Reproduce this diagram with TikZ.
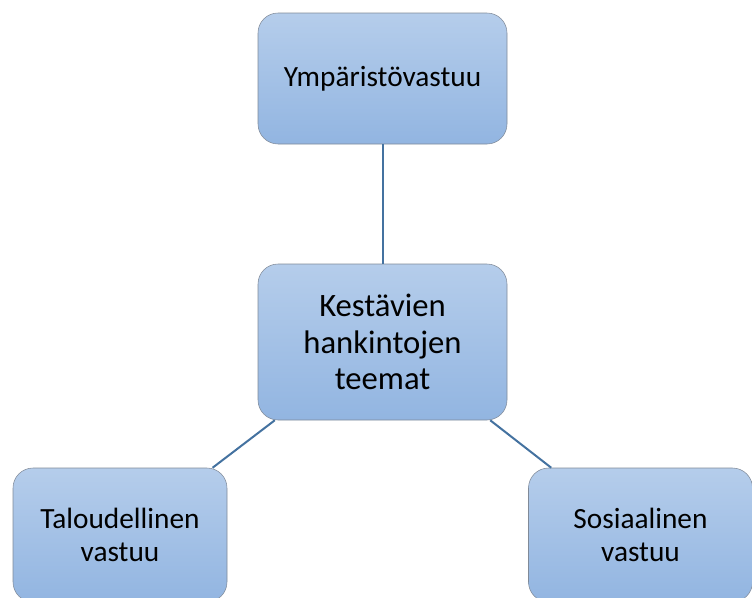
\documentclass[tikz,border=0pt]{standalone}
\usepackage{fontspec}
\setmainfont{Carlito}
\usetikzlibrary{positioning}
\definecolor{boxtop}{RGB}{181,205,235}
\definecolor{boxbot}{RGB}{146,181,225}
\definecolor{boxline}{RGB}{128,138,152}
\definecolor{linkcolor}{RGB}{68,114,160}

\begin{document}
\begin{tikzpicture}[x=0.75pt, y=-0.75pt]
  \tikzset{
    themebox/.style={
      draw=boxline, rounded corners=15pt, top color=boxtop,
      bottom color=boxbot, align=center, inner sep=0pt,
      font=\fontsize{22}{24.8}\selectfont
    },
    link/.style={draw=linkcolor, line width=1.5pt}
  }
  \useasboundingbox (0,0) rectangle (752,597);

  % ---- Centre theme ----
  \node[themebox, minimum width=186.75pt, minimum height=117pt,
        font=\fontsize{24.5}{27.4}\selectfont] (teemat) at (382.5, 342)
    {Kestävien\\hankintojen\\teemat};

  % ---- Top ----
  \node[themebox, minimum width=186.75pt, minimum height=98.25pt]
    (ymparisto) at (382.5, 78.5) {Ympäristövastuu};

  % ---- Bottom left / right (cut by the lower edge) ----
  \node[themebox, minimum width=160.5pt, minimum height=100.5pt]
    (talous) at (120, 535) {Taloudellinen\\vastuu};
  \node[themebox, minimum width=168pt, minimum height=100.5pt]
    (sosiaali) at (640.5, 535) {Sosiaalinen\\vastuu};

  % ---- Links ----
  \draw[link] (ymparisto) -- (teemat);
  \draw[link] (teemat.216) -- (talous.36);
  \draw[link] (teemat.-36) -- (sosiaali.143);

\end{tikzpicture}
\end{document}
